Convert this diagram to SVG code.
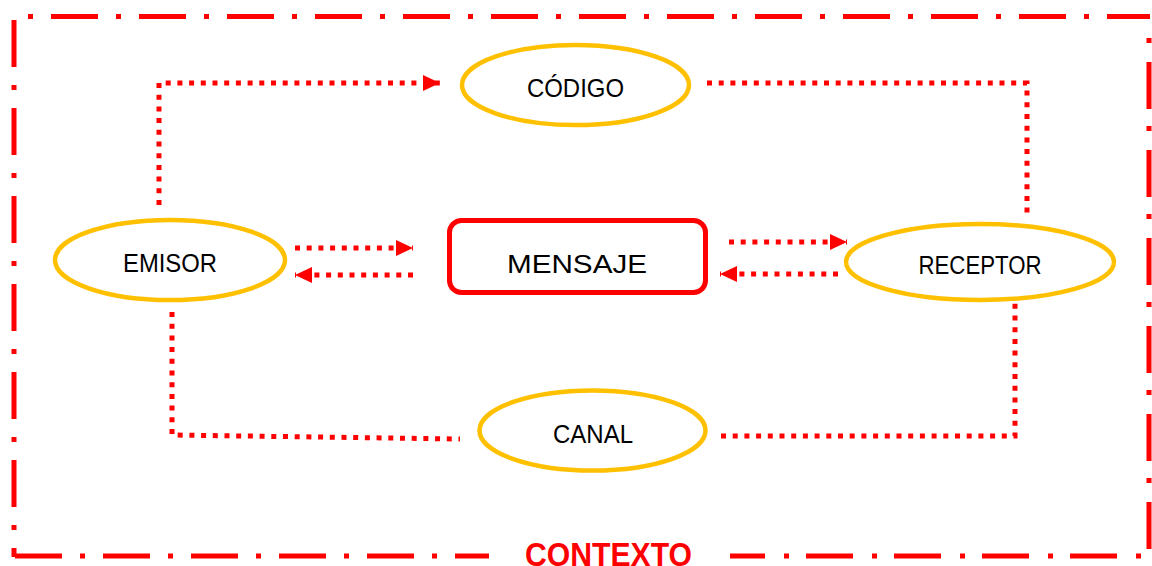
<svg xmlns="http://www.w3.org/2000/svg" width="1152" height="566" viewBox="0 0 1152 566">
<style>
.border{fill:none;stroke:#FF0000;stroke-width:5}
.conn{fill:none;stroke:#FF0000;stroke-width:5;stroke-dasharray:5 6.7}
.ell{fill:#FFFFFF;stroke:#FFC000;stroke-width:4.5}
.lbl{font-family:"Liberation Sans",Arial,sans-serif;font-size:25px;fill:#000000;text-anchor:middle}
</style>
<defs>
<marker id="ah" markerUnits="userSpaceOnUse" markerWidth="18" markerHeight="17" refX="17" refY="8" orient="auto" viewBox="0 0 18 17">
<path d="M0,0 L17,8 L0,16 z" fill="#FF0000"/>
</marker>
</defs>
<rect width="1152" height="566" fill="#FFFFFF"/>
<g id="contexto">
<path class="border" d="M28 16.5 H1150" stroke-dasharray="5 18 47 18"/>
<path class="border" d="M14 20 V557" stroke-dasharray="47 18 5 18"/>
<path class="border" d="M1149 38 V549" stroke-dasharray="5 19 47 17"/>
<path class="border" d="M15 556 H489" stroke-dasharray="47 18 5 18"/>
<path class="border" d="M1141 556 H730" stroke-dasharray="5 19 47 17"/>
<text x="608.5" y="565.5" font-family="'Liberation Sans',Arial,sans-serif" font-weight="bold" font-size="33" fill="#FF0000" text-anchor="middle" textLength="167" lengthAdjust="spacingAndGlyphs">CONTEXTO</text>
</g>
<g id="connectors">
<path class="conn" d="M159 205 V83 H440" marker-end="url(#ah)"/>
<path class="conn" d="M707 83 H1027 V218"/>
<path class="conn" d="M295 248 H413" marker-end="url(#ah)"/>
<path class="conn" d="M413 275 H295" marker-end="url(#ah)"/>
<path class="conn" d="M729 242 H847" marker-end="url(#ah)"/>
<path class="conn" d="M838 274 H720" marker-end="url(#ah)"/>
<path class="conn" d="M172 312 V435 L460 439"/>
<path class="conn" d="M721 436 H1015 V303"/>
</g>
<g id="codigo">
<ellipse class="ell" cx="575.5" cy="85" rx="113.5" ry="40"/>
<text class="lbl" x="575.5" y="97" textLength="97" lengthAdjust="spacingAndGlyphs">CÓDIGO</text>
</g>
<g id="emisor">
<ellipse class="ell" cx="170" cy="260" rx="115" ry="40"/>
<text class="lbl" x="170" y="272" textLength="94" lengthAdjust="spacingAndGlyphs">EMISOR</text>
</g>
<g id="mensaje">
<rect x="449.5" y="220.5" width="256" height="72" rx="12" fill="#FFFFFF" stroke="#FF0000" stroke-width="5"/>
<text class="lbl" x="577" y="273" font-size="32" textLength="140" lengthAdjust="spacingAndGlyphs">MENSAJE</text>
</g>
<g id="receptor">
<ellipse class="ell" cx="980" cy="262" rx="134" ry="38"/>
<text class="lbl" x="980" y="274" textLength="123" lengthAdjust="spacingAndGlyphs">RECEPTOR</text>
</g>
<g id="canal">
<ellipse class="ell" cx="592.5" cy="430.5" rx="113" ry="40"/>
<text class="lbl" x="593" y="443" textLength="80" lengthAdjust="spacingAndGlyphs">CANAL</text>
</g>
</svg>
